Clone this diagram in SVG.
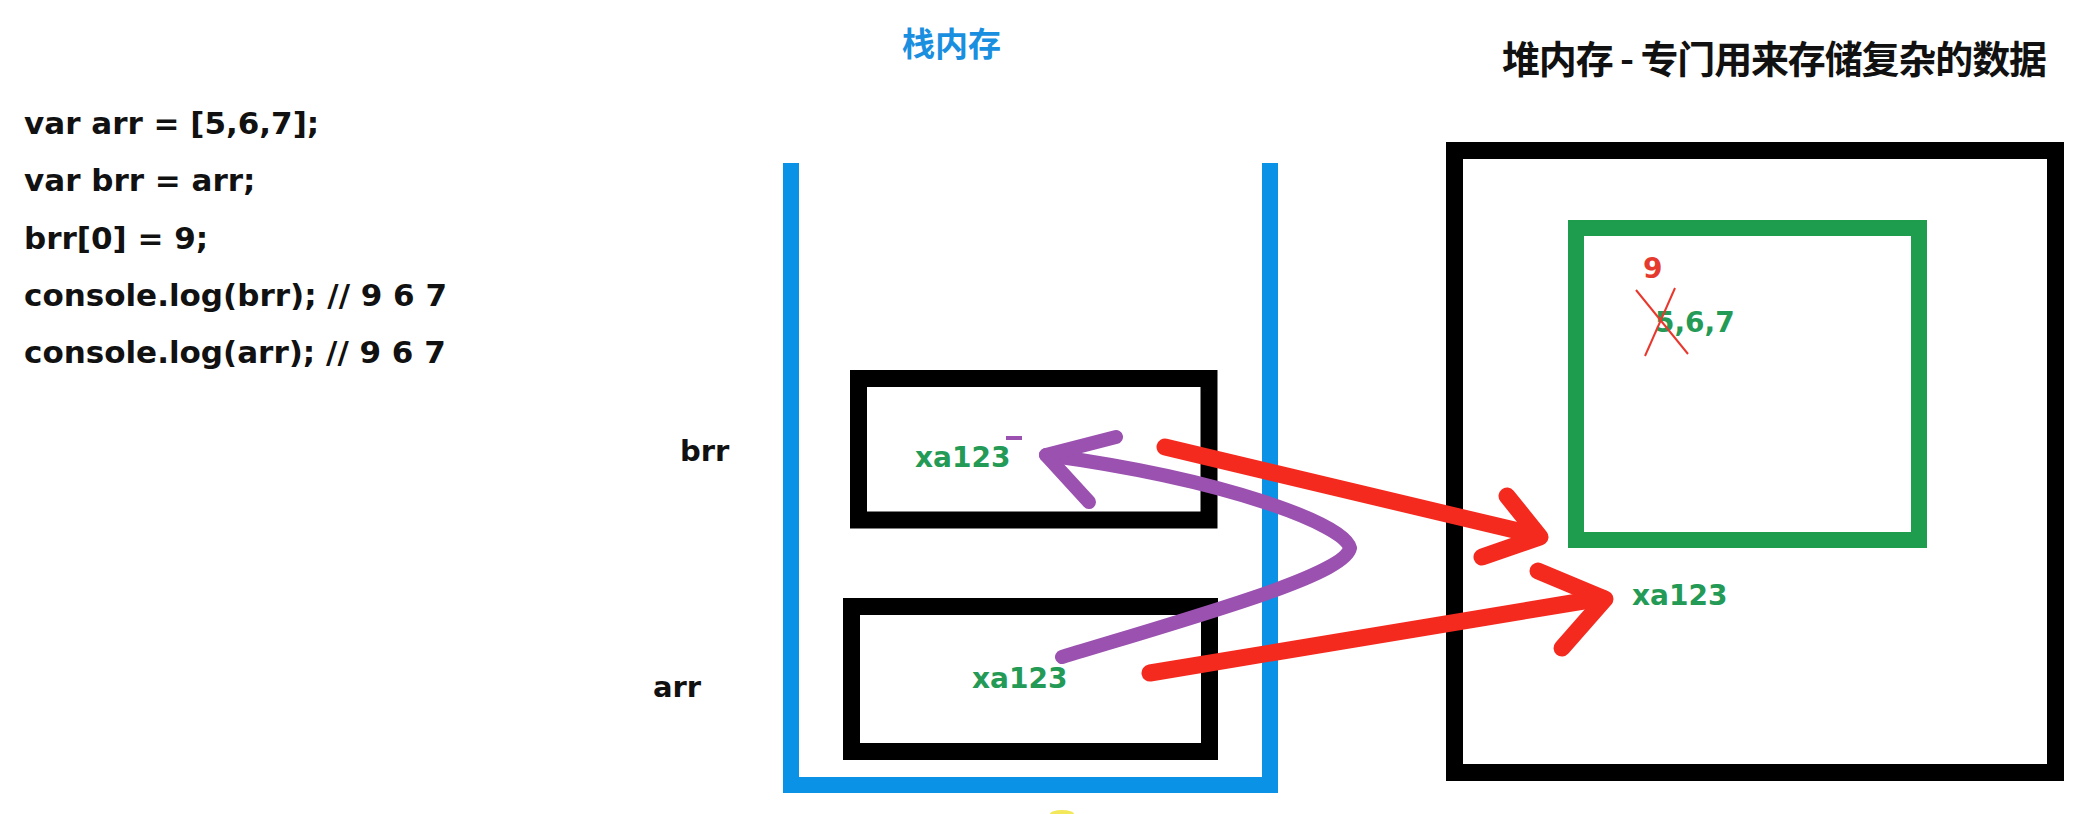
<svg xmlns="http://www.w3.org/2000/svg" width="2084" height="814" viewBox="0 0 2084 814">
<style>
.code{font-family:"DejaVu Sans","Liberation Sans",sans-serif;font-weight:bold;font-size:31px;fill:#111}
.lbl{font-family:"DejaVu Sans","Liberation Sans",sans-serif;font-weight:bold;font-size:29px;fill:#111}
.addr{font-family:"DejaVu Sans","Liberation Sans",sans-serif;font-weight:bold;font-size:28px;fill:#239a55}
.cjk{font-family:"Noto Sans CJK SC","Noto Sans CJK JP",sans-serif;font-weight:bold}
.blk{fill:none;stroke:#000;stroke-width:17}
.red{fill:none;stroke:#f52a1f;stroke-width:17;stroke-linecap:round;stroke-linejoin:round}
.pur{fill:none;stroke:#9b51b0;stroke-width:14;stroke-linecap:round;stroke-linejoin:round}
</style>
<rect width="2084" height="814" fill="#fff"/>
<g id="code">
<text class="code" x="24" y="134">var arr = [5,6,7];</text>
<text class="code" x="24" y="191">var brr = arr;</text>
<text class="code" x="24" y="249">brr[0] = 9;</text>
<text class="code" x="24" y="306">console.log(brr); // 9 6 7</text>
<text class="code" x="24" y="363">console.log(arr); // 9 6 7</text>
</g>
<g id="stack">
<text class="cjk" x="902" y="56" font-size="33" fill="#1a8fe0">栈内存</text>
<path d="M791,163 V785 H1270 V163" fill="none" stroke="#0a93e6" stroke-width="16"/>
</g>
<g id="brr-node">
<text class="lbl" x="680" y="461">brr</text>
<rect class="blk" x="858.5" y="378.5" width="350.5" height="141.5"/>
<text class="addr" x="915" y="467">xa123</text>
<line x1="1006" y1="438" x2="1022" y2="438" stroke="#9b51b0" stroke-width="4"/>
</g>
<g id="arr-node">
<text class="lbl" x="653" y="697">arr</text>
<rect class="blk" x="851.5" y="606.5" width="358" height="145"/>
<text class="addr" x="972" y="688">xa123</text>
</g>
<g id="heap">
<text class="cjk" x="1502" y="73" font-size="38" fill="#111" textLength="545" lengthAdjust="spacing">堆内存 - 专门用来存储复杂的数据</text>
<rect class="blk" x="1454.5" y="150.5" width="601" height="622"/>
<text class="addr" x="1632" y="605">xa123</text>
</g>
<g id="array-object">
<rect x="1576" y="228" width="343" height="312" fill="none" stroke="#1f9d4f" stroke-width="16"/>
<text class="addr" x="1643" y="278" font-size="30" style="fill:#e53a2e">9</text>
<text class="addr" x="1655" y="332">5,6,7</text>
<line x1="1636" y1="290" x2="1688" y2="354" stroke="#e8372c" stroke-width="2"/>
<line x1="1675" y1="288" x2="1645" y2="356" stroke="#e8372c" stroke-width="2"/>
</g>
<g id="connectors">
<path class="pur" d="M1062,657 C1200,615 1345,575 1350,548 C1345,525 1230,480 1046,455"/>
<path class="pur" stroke-width="18" d="M1116,437 L1046,455 L1089,502"/>
<path class="red" d="M1165,447 L1535,535"/>
<path class="red" d="M1507,496 L1540,537 L1482,557"/>
<path class="red" d="M1150,673 L1602,598"/>
<path class="red" d="M1538,571 L1605,599 L1562,648"/>
</g>
<ellipse cx="1062" cy="814" rx="12" ry="4" fill="#f3e85a"/>
</svg>
